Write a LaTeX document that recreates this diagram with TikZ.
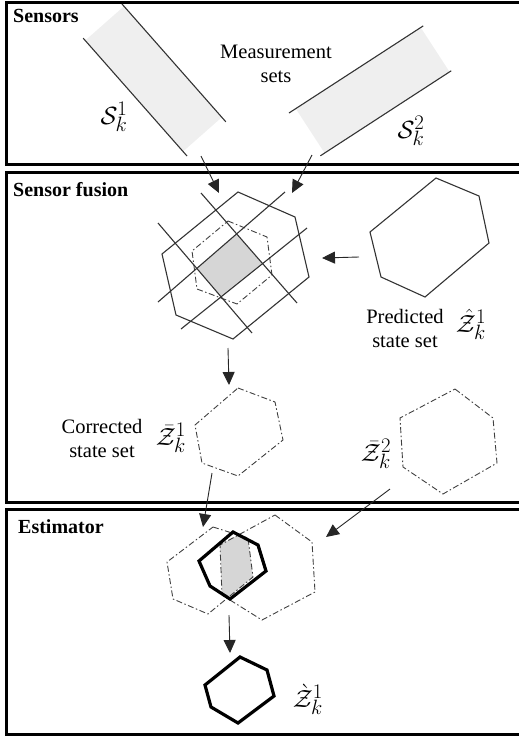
\documentclass[tikz,border=0pt]{standalone}
\usepackage{fontspec}
\setmainfont{Liberation Serif}
\usetikzlibrary{arrows.meta}
\definecolor{stripgray}{HTML}{EFEFEF}
\definecolor{capgray}{HTML}{D6D6D6}
\begin{document}
\begin{tikzpicture}[x=1pt,y=-1pt,
  panel/.style={line width=3pt, draw=black},
  thinline/.style={line width=1.1pt, draw=black!80},
  dashdot/.style={line width=0.9pt, draw=black!75, dash pattern=on 6pt off 2.5pt on 1.5pt off 2.5pt},
  thickhex/.style={line width=3.2pt, draw=black, line join=miter},
  arr/.style={line width=0.9pt, draw=black!85, -{Triangle[length=13pt,width=12pt]}},
  ptitle/.style={font=\fontsize{20}{24}\selectfont\bfseries, anchor=west, inner sep=0pt},
  txt/.style={font=\fontsize{20.5}{24}\selectfont, align=center, inner sep=0pt},
  mlab/.style={font=\fontsize{31}{34}\selectfont, inner sep=0pt}]
\useasboundingbox (0,0) rectangle (519,737);

% ---------- panels ----------
\draw[panel] (6,2.5) rectangle (540,164);
\draw[panel] (6,172) rectangle (540,502);
\draw[panel] (6,509) rectangle (540,734);
\node[ptitle] (tsens) at (13,16) {Sensors};
\node[ptitle] (tfus) at (13,190) {Sensor fusion};
\node[ptitle] (test) at (18,527) {Estimator};

% ---------- sensors ----------
\fill[stripgray] (124,6.3) -- (221.8,117.3) -- (183,151.5) -- (85.2,40.5) -- cycle;
\draw[thinline] (122,4) -- (225.8,121.8);
\draw[thinline] (83.2,38.2) -- (187,156);
\fill[stripgray] (295.7,108.6) -- (420.7,27.5) -- (449.6,71.9) -- (324.6,153) -- cycle;
\draw[thinline] (289,113) -- (423.2,25.9);
\draw[thinline] (320.4,155.8) -- (451.2,70.8);
\node[mlab] (s1) at (114,117) {$\mathcal{S}_k^1$};
\node[mlab] (s2) at (411,131) {$\mathcal{S}_k^2$};
\node[txt] (meas) at (276,64) {Measurement\\sets};

\coordinate (a1s) at (201,156);
\coordinate (a1e) at (219,193);
\coordinate (a2s) at (312,155);
\coordinate (a2e) at (292,193);
\draw[arr] (a1s) -- (a1e);
\draw[arr] (a2s) -- (a2e);

% ---------- sensor fusion ----------
\coordinate (la1) at (201,193); \coordinate (la2) at (297,303);
\coordinate (lb1) at (158,223); \coordinate (lb2) at (252,333);
\coordinate (lc1) at (285,192); \coordinate (lc2) at (158,302);
\coordinate (ld1) at (307,228); \coordinate (ld2) at (181,329);
\fill[capgray] (intersection of la1--la2 and lc1--lc2)
  -- (intersection of la1--la2 and ld1--ld2)
  -- (intersection of lb1--lb2 and ld1--ld2)
  -- (intersection of lb1--lb2 and lc1--lc2) -- cycle;
\draw[thinline] (238,192) -- (295,217) -- (309,277) -- (233,339) -- (176,315) -- (162,254) -- cycle;
\draw[dashdot] (228,221) -- (267,237) -- (272,275) -- (237,304) -- (197,289) -- (192,251) -- cycle;
\draw[thinline] (la1) -- (la2);
\draw[thinline] (lb1) -- (lb2);
\draw[thinline] (lc1) -- (lc2);
\draw[thinline] (ld1) -- (ld2);

\draw[thinline] (436,178) -- (479,196) -- (489,243) -- (425,297) -- (381,277) -- (370,232) -- cycle;
\coordinate (pa1) at (359,257);
\coordinate (pa2) at (322,258);
\draw[arr] (pa1) -- (pa2);
\node[txt] (pred) at (405,328) {Predicted\\state set};
\node[mlab] (zhat) at (471,324) {$\hat{\mathcal{Z}}_k^1$};

\coordinate (da1) at (228,348);
\coordinate (da2) at (229,385);
\draw[arr] (da1) -- (da2);

\draw[dashdot] (238,388) -- (275,402) -- (283,440) -- (238,476) -- (202,463) -- (195,425) -- cycle;
\node[txt] (corr) at (102,438) {Corrected\\state set};
\node[mlab] (zbar1) at (171,438) {$\bar{\mathcal{Z}}_k^1$};
\draw[dashdot] (455,389) -- (493,418) -- (497,463) -- (443,494) -- (403,467) -- (400,418) -- cycle;
\node[mlab] (zbar2) at (376,454) {$\bar{\mathcal{Z}}_k^2$};

\coordinate (ea1) at (212,473); \coordinate (ea2) at (203,527);
\coordinate (eb1) at (390,489); \coordinate (eb2) at (326,537);
\draw[arr] (ea1) -- (ea2);
\draw[arr] (eb1) -- (eb2);

% ---------- estimator ----------
\begin{scope}
  \clip (213,527) -- (248,538) -- (253,577) -- (208,614) -- (173,599) -- (167,562) -- cycle;
  \fill[capgray] (275,515) -- (312,542) -- (315,592) -- (262,620) -- (222,595) -- (220,545) -- cycle;
\end{scope}
\draw[dashdot] (213,527) -- (248,538) -- (253,577) -- (208,614) -- (173,599) -- (167,562) -- cycle;
\draw[dashdot] (275,515) -- (312,542) -- (315,592) -- (262,620) -- (222,595) -- (220,545) -- cycle;
\draw[thickhex] (233,532) -- (258,545) -- (266,571) -- (230,599) -- (210,586) -- (199,561) -- cycle;

\coordinate (fa1) at (229,615);
\coordinate (fa2) at (230,653);
\draw[arr] (fa1) -- (fa2);
\draw[thickhex] (240,657) -- (267,670) -- (274,696) -- (238,723) -- (211,707) -- (205,685) -- cycle;
\node[mlab] (zgr) at (308,699) {$\grave{\mathcal{Z}}_k^1$};
\end{tikzpicture}
\end{document}
